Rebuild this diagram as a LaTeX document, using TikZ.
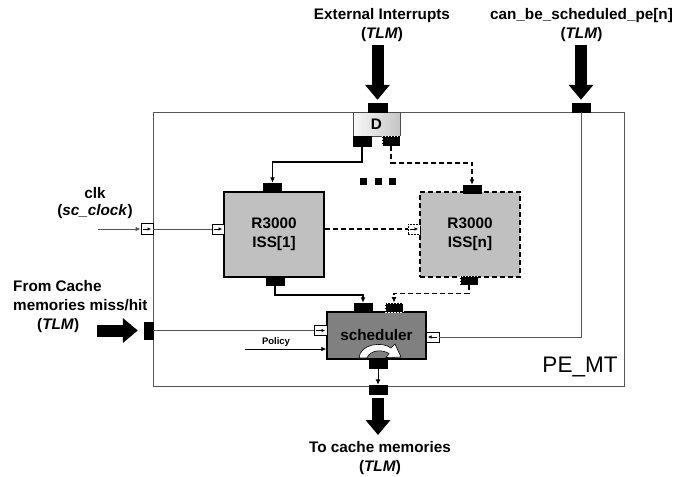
\documentclass[tikz,border=0pt]{standalone}
\usepackage{fontspec}
\setmainfont{Liberation Sans}
\usepackage{xcolor}
\usepackage{tikz}
\usetikzlibrary{arrows.meta,positioning}
\definecolor{issc}{HTML}{C0C0C0}
\definecolor{schc}{HTML}{808080}
\definecolor{wirec}{HTML}{555555}
\newcommand{\lblfont}{\fontsize{15.3}{19}\selectfont\bfseries}
\tikzset{
  lbl/.style={font=\lblfont,align=center,inner sep=0pt},
  frm/.style={rectangle,draw=wirec,line width=1pt,inner sep=0pt},
  prt/.style={rectangle,draw=black,fill=black,minimum width=18pt,minimum height=9pt,inner sep=0pt},
  dprt/.style={prt,draw=white,dash pattern=on 1.5pt off 1.5pt,line width=0.7pt},
  iprt/.style={rectangle,draw=black,fill=white,line width=0.6pt,minimum width=12pt,minimum height=10pt,inner sep=0pt,
    path picture={\draw[solid,line width=0.5pt,-{Latex[length=3.5pt,width=3.5pt]}] ([xshift=2pt]path picture bounding box.west) -- ([xshift=-2pt]path picture bounding box.east);}},
  iprtl/.style={iprt,
    path picture={\draw[solid,line width=0.5pt,-{Latex[length=3.5pt,width=3.5pt]}] ([xshift=-2pt]path picture bounding box.east) -- ([xshift=2pt]path picture bounding box.west);}},
  iss/.style={rectangle,draw=black,line width=1.4pt,fill=issc,minimum width=100pt,minimum height=85pt,align=center,font=\lblfont},
  sch/.style={rectangle,draw=black,line width=1.4pt,fill=schc,minimum width=99pt,minimum height=47pt,font=\lblfont},
  dbx/.style={rectangle,draw=black!70,line width=0.6pt,left color=gray!5,right color=gray!45,minimum width=47pt,minimum height=24pt,font=\lblfont},
  dotsq/.style={rectangle,fill=black,minimum size=7pt,inner sep=0pt},
  ar/.style={-{Latex[length=5.5pt,width=5pt]},line width=1.4pt},
  dar/.style={ar,dash pattern=on 5pt off 3pt},
  dln/.style={line width=1.3pt,dash pattern=on 5pt off 3pt},
  wire/.style={draw=wirec,line width=0.9pt},
  gar/.style={wire,-{Latex[length=5pt,width=4.5pt]}},
  bigar/.style={line width=12pt,-{Triangle[length=15pt,width=24pt]}}
}
\begin{document}
\begin{tikzpicture}[x=1pt,y=-1pt]
\useasboundingbox (0,0) rectangle (689,477);
% PE_MT frame
\node[frm,minimum width=471pt,minimum height=274pt] (pemt) at (388.5,249) {};
\node[font=\fontsize{22.5}{26}\selectfont] (pelbl) at (580,367) {PE\_MT};
% outer labels and sources
\node[lbl] (extlbl) at (382,25) {External Interrupts\\(\textit{TLM})};
\node[lbl] (cbslbl) at (581.5,25) {can\_be\_scheduled\_pe[n]\\(\textit{TLM})};
\node[lbl,font=\fontsize{15.3}{17}\selectfont\bfseries] (clklbl) at (95,203.5) {clk\\(\textit{sc\_clock})};
\node[lbl,align=left,anchor=west] (cachelbl) at (13,307) {From Cache\\memories miss/hit\\\hspace{24pt}(\textit{TLM})};
\node[lbl] (tolbl) at (380,458) {To cache memories\\(\textit{TLM})};
\node[lbl,font=\fontsize{9.5}{11}\selectfont\bfseries] (pollbl) at (276,342) {Policy};
\coordinate (extsrc) at (377.5,45);
\coordinate (cbssrc) at (581,45);
\coordinate (clksrc) at (98,229);
\coordinate (cachesrc) at (97,330.5);
\coordinate (polsrc) at (245,349);
\coordinate (tocache) at (378,435);
% dispatcher
\node[dbx] (dbox) at (376.5,124) {D};
\node[prt,minimum width=19pt] (dtop) at (377.5,107.5) {};
\node[prt,minimum height=10pt] (dbl) at (362,141) {};
\node[dprt,minimum height=10pt] (dbr) at (391,141) {};
% ISS cores
\node[iss] (iss1) at (274,234.5) {R3000\\ISS[1]};
\node[iss,dash pattern=on 5pt off 3pt] (issn) at (470,234.5) {R3000\\ISS[n]};
\node[prt] (iss1t) at (272.5,187.5) {};
\node[prt,minimum height=8pt] (iss1b) at (275,281) {};
\node[iprt] (iss1i) at (218,229) {};
\node[prt,minimum height=8pt] (issnt) at (472,189) {};
\node[dprt] (issnb) at (469,280.5) {};
\node[iprt,dash pattern=on 2pt off 1pt] (issni) at (414,229) {};
\foreach \x in {363,378,392} \node[dotsq] (dot\x) at (\x,181) {};
% scheduler
\node[sch] (sched) at (376.5,335.5) {scheduler};
\node[prt] (schl) at (363,307.5) {};
\node[dprt] (schr) at (394,307.5) {};
\node[iprt,minimum width=13pt] (schli) at (320.5,330.5) {};
\node[iprtl,minimum width=13pt] (schri) at (432.5,337) {};
\node[prt] (schb) at (378,363.5) {};
\node[prt] (outb) at (378,389.5) {};
\draw[fill=white,line width=0.6pt] (359,358) .. controls (360,344) and (382,341) .. (391,348) -- (395,344) -- (401,357) -- (386,357.5) -- (389,353.5) .. controls (382,349) and (370,350) .. (367,358) -- cycle;
% boundary ports
\node[iprt,minimum height=11pt] (clkp) at (147,229) {};
\node[prt,minimum width=9pt,minimum height=17pt] (cachep) at (148.5,330.5) {};
\node[prt] (cbsp) at (581,107.5) {};
% connectors
\draw[bigar] (extsrc) -- ([yshift=3pt]dtop.north);
\draw[bigar] (cbssrc) -- ([yshift=3pt]cbsp.north);
\draw[bigar] (cachesrc) -- ([xshift=-6pt]cachep.west);
\draw[bigar,shorten <=4pt] (outb.south) -- (tocache);
\draw[ar] (dbl.south) |- ([yshift=21pt]iss1t.north) -| (iss1t.north);
\draw[dar] (dbr.south) |- ([yshift=22pt]issnt.north) -| (issnt.north);
\draw[ar] (iss1b.south) |- ([yshift=8pt]schl.north) -| (schl.north);
\draw[dar] (issnb.south) |- ([yshift=9pt]schr.north) -| (schr.north);
\draw[dln] (iss1.east |- issni.west) -- (issni.west);
\draw[gar] (clksrc) -- (clkp.west);
\draw[wire] (clkp.east) -- (iss1i.west);
\draw[wire] (cachep.east) -- (schli.west);
\draw[gar,draw=black,line width=0.7pt] (polsrc) -- (sched.west |- polsrc);
\draw[wire] (cbsp.south) |- (schri.east);
\draw[ar,line width=0.9pt] (schb.south) -- (outb.north);
\end{tikzpicture}
\end{document}
